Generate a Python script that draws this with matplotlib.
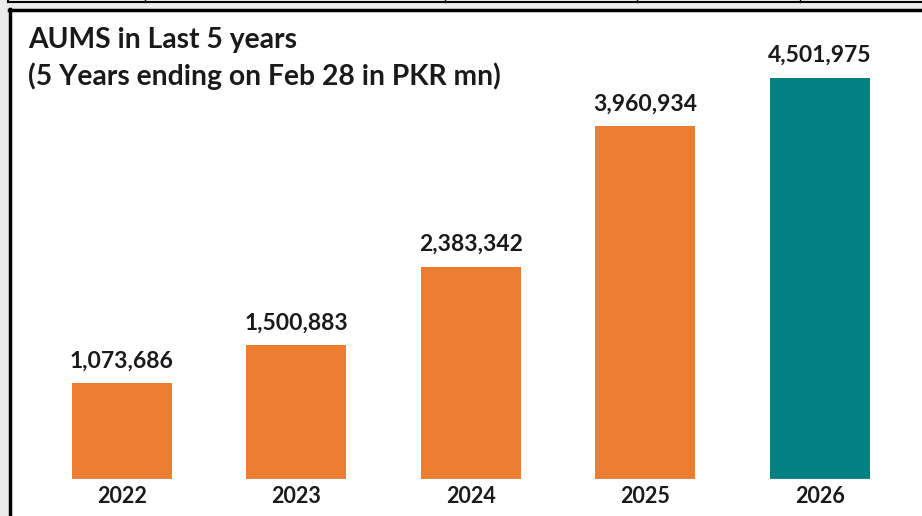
import matplotlib.pyplot as plt
from matplotlib.lines import Line2D
from matplotlib.patches import Rectangle

years = ["2022", "2023", "2024", "2025", "2026"]
aums = [1073686, 1500883, 2383342, 3960934, 4501975]
colors = ["#ED7D31", "#ED7D31", "#ED7D31", "#ED7D31", "#008080"]

W, H = 922, 516
fig = plt.figure(figsize=(W / 100, H / 100), dpi=100)
plt.rcParams['font.family'] = ['Lato', 'DejaVu Sans']

# screenshot surroundings: grey margin, table lines, black frame
fig.patches.append(Rectangle((0, 0), 9 / W, 1, transform=fig.transFigure, color="#ececec", zorder=0))
fig.patches.append(Rectangle((0, 1 - 9 / H), 1, 9 / H, transform=fig.transFigure, color="#ececec", zorder=0))
def px_line(x0, y0, x1, y1, lw):
    fig.lines.append(Line2D([x0 / W, x1 / W], [1 - y0 / H, 1 - y1 / H],
                            transform=fig.transFigure, color="black", lw=lw))
px_line(8, 2, W, 2, 1.5)
for xv in [145, 445, 637, 800]:
    px_line(xv, 0, xv, 2, 1)
px_line(8, 0, 8, 2, 1.5)
px_line(9, 10, W, 10, 2.5)
px_line(10, 9, 10, H, 2.5)

# axes placed so that bars land at the same pixels as the reference
left_px, right_px, top_px, base_px = 12, W, 10, 479
ax = fig.add_axes([left_px / W, 1 - base_px / H, (right_px - left_px) / W, (base_px - top_px) / H])
ax.set_facecolor("none")

x = list(range(len(years)))
width = 0.573
bars = ax.bar(x, aums, width=width, color=colors, zorder=2)
for xi in x:
    ax.hlines(0, xi - width / 2, xi + width / 2, color="#8faadc", lw=1, zorder=3)

for xi, v in zip(x, aums):
    ax.annotate(f"{v:,}", (xi, v), xytext=(0, 8.5), textcoords="offset points",
                ha="center", va="bottom", fontsize=16.5, fontweight="bold", color="#1a1a1a")

ax.set_xlim(-0.630, 4.585)
ax.set_ylim(0, 5265361)
ax.set_xticks(x)
ax.set_xticklabels(years, fontsize=15.5, fontweight="bold", color="#1a1a1a")
ax.tick_params(axis="x", length=0, pad=5)
ax.set_yticks([])
for s in ax.spines.values():
    s.set_visible(False)

fig.text(28 / W, 1 - 40 / H, "AUMS in Last 5 years", fontsize=20.3, fontweight="bold",
         color="#1a1a1a", va="center", ha="left")
fig.text(28 / W, 1 - 76 / H, "(5 Years ending on Feb 28 in PKR mn)", fontsize=20.3, fontweight="bold",
         color="#1a1a1a", va="center", ha="left")

fig.savefig("out.png", dpi=100)
